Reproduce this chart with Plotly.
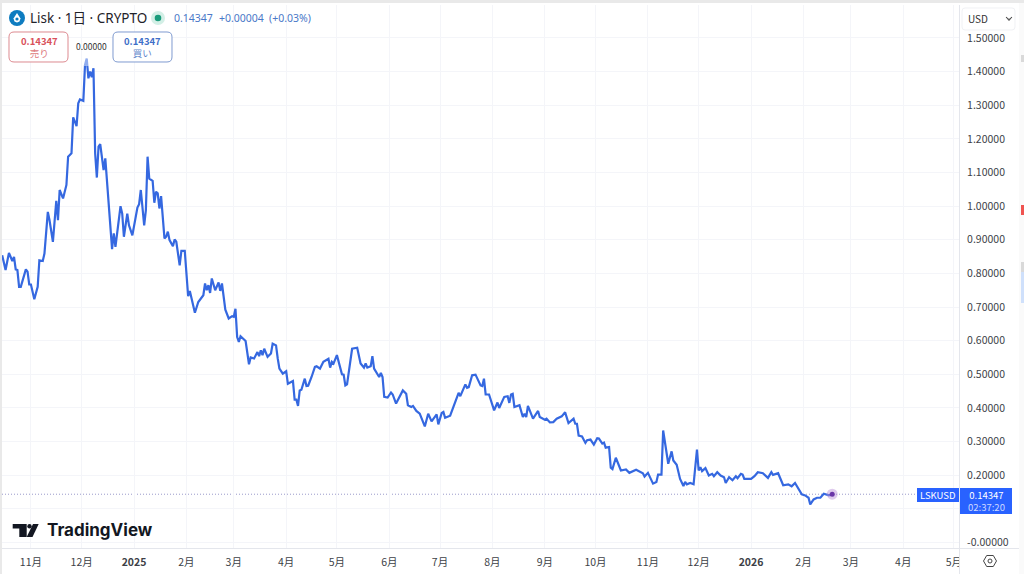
import pandas as pd
import plotly.graph_objects as go

# LSKUSD daily line: days after 2024-11-01 and close
start_date = pd.Timestamp("2024-11-01")
day_offsets = [
    -17, -15, -13, -11, -10, -9, -8, -7, -6, -3, -2, -1, 0, 2, 4, 5, 7, 8, 10, 11, 13, 15, 16, 17, 19,
    21, 22, 24, 25, 27, 28, 29, 31, 32, 33, 34, 35, 36, 37, 38, 39, 40, 41, 43, 44, 45, 48, 49, 50, 53,
    54, 55, 57, 58, 60, 63, 64, 65, 67, 68, 69, 70, 72, 73, 74, 75, 76, 77, 79, 80, 81, 82, 84, 85, 86,
    88, 89, 91, 93, 94, 97, 99, 102, 103, 104, 105, 106, 107, 109, 111, 112, 113, 115, 117, 119, 120,
    121, 122, 123, 124, 126, 127, 129, 130, 132, 134, 135, 136, 137, 138, 140, 142, 143, 145, 146, 147,
    149, 151, 152, 155, 156, 157, 158, 159, 160, 162, 163, 164, 166, 168, 169, 171, 173, 176, 177, 178,
    179, 181, 184, 185, 186, 187, 190, 193, 195, 197, 198, 199, 201, 202, 203, 206, 207, 208, 209, 211,
    213, 214, 216, 218, 220, 222, 223, 225, 226, 228, 230, 233, 235, 237, 240, 241, 243, 244, 245, 248,
    251, 253, 254, 257, 258, 259, 261, 263, 266, 267, 268, 269, 271, 274, 276, 277, 280, 282, 283, 284,
    285, 286, 289, 291, 292, 293, 294, 295, 297, 300, 301, 304, 305, 307, 309, 311, 314, 316, 318, 321,
    322, 323, 324, 326, 328, 329, 331, 333, 335, 336, 338, 339, 340, 342, 343, 344, 346, 349, 352, 354,
    358, 362, 363, 365, 368, 370, 371, 373, 374, 377, 379, 380, 382, 384, 386, 387, 388, 390, 392, 394,
    395, 396, 397, 399, 401, 403, 404, 406, 408, 410, 411, 413, 415, 417, 418, 420, 421, 422, 426, 428,
    430, 433, 436, 438, 439, 442, 445, 448, 450, 452, 454, 456, 458, 460, 461, 463, 465, 467, 469, 472,
    474,
]
prices = [
    .854, .810, .861, .837, .849, .812, .810, .760, .760, .812, .805, .767, .767, .723, .760, .839, .837,
    .859, .983, .958, .894, 1.016, .958, 1.048, 1.023,
    1.063, 1.147, 1.157, 1.264, 1.238, 1.306, 1.317, 1.313, 1.420, 1.439, 1.380, 1.400, 1.383, 1.410,
    1.157, 1.085, 1.177, 1.184, 1.107, 1.142, 1.077, .872, .919, .879, 1.000,
    .978, .909, .978, .943, .913, .996, 1.006, 1.048, .943, .988, 1.147, 1.082, 1.075, 1.010, 1.043,
    1.038, .993, 1.030, .904, .909, .924, .899, .881, .901, .894,
    .824, .867, .867, .732, .748, .683, .715, .735, .770, .750, .765, .742, .785, .750, .773, .748, .770,
    .692, .666, .673, .671,
    .695, .611, .596, .613, .603, .599, .530, .550, .547, .566, .554, .571, .557, .576, .552, .562, .591,
    .586, .547, .517,
    .502, .509, .472, .480, .425, .425, .406, .452, .454, .487, .465, .466, .492, .522, .524, .517, .537,
    .546, .520, .537,
    .532, .557, .500, .499, .467, .470, .576, .579, .532, .520, .532, .520, .524, .554, .517, .492, .504,
    .492, .433, .431,
    .446, .440, .413, .431, .452, .442, .408, .403, .406, .391, .383, .345, .383, .360, .381, .351, .385,
    .388, .371, .377,
    .418, .445, .435, .470, .460, .462, .497, .499, .467, .465, .487, .440, .440, .393, .416, .400, .433,
    .435, .415, .440,
    .442, .403, .408, .373, .383, .373, .406, .395, .368, .391, .373, .365, .368, .357, .358, .368, .375,
    .387, .355, .368,
    .353, .353, .318, .315, .296, .304, .306, .291, .310, .309, .294, .297, .282, .284, .222, .218, .252,
    .214, .217, .207,
    .216, .206, .196, .207, .175, .180, .202, .202, .333, .234, .271, .244, .231, .189, .168, .180, .173,
    .177, .173, .276,
    .214, .224, .212, .221, .199, .204, .197, .209, .199, .194, .177, .194, .185, .197, .191, .204, .202,
    .189, .189, .197,
    .209, .206, .192, .209, .201, .206, .170, .173, .167, .177, .160, .143, .140, .133, .113, .128, .133,
    .133, .145, .140,
    .14347,
]

month_ticks = ["2024-11-01", "2024-12-01", "2025-01-01", "2025-02-01", "2025-03-01", "2025-04-01",
               "2025-05-01", "2025-06-01", "2025-07-01", "2025-08-01", "2025-09-01", "2025-10-01",
               "2025-11-01", "2025-12-01", "2026-01-01", "2026-02-01", "2026-03-01", "2026-04-01",
               "2026-05-01"]
month_labels = ["11月", "12月", "<b>2025</b>", "2月", "3月", "4月", "5月", "6月", "7月", "8月", "9月", "10月",
                "11月", "12月", "<b>2026</b>", "2月", "3月", "4月", "5月"]
price_ticks = [1.5, 1.4, 1.3, 1.2, 1.1, 1.0, .9, .8, .7, .6, .5, .4, .3, .2, .1, 0]
price_labels = ["1.50000", "1.40000", "1.30000", "1.20000", "1.10000", "1.00000", "0.90000", "0.80000",
                "0.70000", "0.60000", "0.50000", "0.40000", "0.30000", "0.20000", "", "-0.00000"]

BLUE = "#3568e0"
TAG_BLUE = "#2962ff"
GRID = "#f4f5f9"
BORDER = "#e4e6ec"
TEXT = "#3d3f47"
FONT = "Noto Sans CJK JP"
LATIN_FONT = "Noto Sans, Noto Sans CJK JP"
WIDTH, HEIGHT = 1024, 574
LEFT, RIGHT, TOP, BOTTOM = 0, 959, 5, 548

def px(x):
    return (x - LEFT) / (RIGHT - LEFT)

def py(y):
    return 1 - (y - TOP) / (BOTTOM - TOP)

def polygon(points, fill, line=None, width=1, opacity=1):
    path = "M " + " L ".join(f"{px(x):.5f} {py(y):.5f}" for x, y in points) + " Z"
    return dict(type="path", xref="paper", yref="paper", path=path, fillcolor=fill, opacity=opacity,
                line=dict(color=line or "rgba(0,0,0,0)", width=width), layer="above")

def rect(x0, y0, x1, y1, fill, line=None, width=1, opacity=1):
    return dict(type="rect", xref="paper", yref="paper", x0=px(x0), x1=px(x1), y0=py(y0), y1=py(y1),
                fillcolor=fill, opacity=opacity, line=dict(color=line or "rgba(0,0,0,0)", width=width),
                layer="above")

def circle(x, y, r, fill, line=None, width=1):
    return dict(type="circle", xref="paper", yref="paper", x0=px(x - r), x1=px(x + r), y0=py(y + r),
                y1=py(y - r), fillcolor=fill, line=dict(color=line or "rgba(0,0,0,0)", width=width),
                layer="above")

def rounded(x0, y0, x1, y1, r, line):
    def fx(v):
        return f"{px(v):.5f}"
    def fy(v):
        return f"{py(v):.5f}"
    path = (f"M {fx(x0 + r)} {fy(y0)} L {fx(x1 - r)} {fy(y0)} Q {fx(x1)} {fy(y0)} {fx(x1)} {fy(y0 + r)} "
            f"L {fx(x1)} {fy(y1 - r)} Q {fx(x1)} {fy(y1)} {fx(x1 - r)} {fy(y1)} "
            f"L {fx(x0 + r)} {fy(y1)} Q {fx(x0)} {fy(y1)} {fx(x0)} {fy(y1 - r)} "
            f"L {fx(x0)} {fy(y0 + r)} Q {fx(x0)} {fy(y0)} {fx(x0 + r)} {fy(y0)} Z")
    return dict(type="path", xref="paper", yref="paper", path=path, fillcolor="white",
                line=dict(color=line, width=1), layer="above")

def note(x, y, text, size=11, color=TEXT, anchor="center", font=FONT):
    return dict(xref="paper", yref="paper", x=px(x), y=py(y), text=text, showarrow=False, xanchor=anchor,
                yanchor="middle", font=dict(size=size, color=color, family=font))

dates = [(start_date + pd.Timedelta(days=d)).strftime("%Y-%m-%d") for d in day_offsets]

fig = go.Figure()
fig.add_trace(go.Scatter(x=dates, y=prices, mode="lines", line=dict(color=BLUE, width=2.2), hoverinfo="skip"))
fig.add_trace(go.Scatter(x=dates[-1:], y=prices[-1:], mode="markers", hoverinfo="skip",
                         marker=dict(size=11, color="#b58ad6", opacity=0.45)))
fig.add_trace(go.Scatter(x=dates[-1:], y=prices[-1:], mode="markers", hoverinfo="skip",
                         marker=dict(size=5, color="#6a35a8")))

shapes = [
    # window edges
    rect(0, 0, 1024, 3, "#e9e9e9"),
    rect(0, 0, 2, 574, "#e9e9e9"),
    rect(1019, 3, 1024, 574, "#fafafa"),
    rect(1021, 55, 1024, 62, "#d9d9d9"),
    rect(1021, 205, 1024, 215, "#ef5350"),
    rect(1021, 262, 1024, 272, "#d9d9d9"),
    rect(1021, 272, 1024, 303, "#cfe0fb"),
    # axis corner: the 5月 label is cut off by the price scale
    rect(959.5, 549, 972, 574, "white"),
    rect(959, 548, 960, 574, BORDER),
    rect(960, 548, 1019, 549, BORDER),
    # last price line and tags
    dict(type="line", xref="paper", yref="y", x0=px(2), x1=px(917), y0=prices[-1], y1=prices[-1],
         line=dict(color="#9a9acb", width=1, dash="1px,2px"), layer="below"),
    rect(917, 488, 959, 502, TAG_BLUE),
    rect(960, 488, 1012, 514, TAG_BLUE),
    # header
    circle(17, 18, 8, "#0e7cc0"),
    polygon([(17, 13), (20.5, 18.5), (19.5, 21.5), (17, 22.5), (14.5, 21.5), (13.5, 18.5)], "white"),
    circle(17, 19, 1.6, "#0e7cc0"),
    circle(158, 18, 7, "#d3efe6"),
    circle(158, 18, 3.3, "#1a9c7b"),
    rounded(9, 32, 68, 62, 5, "#dd8a90"),
    rounded(113, 32, 172, 62, 5, "#7f9bd0"),
    rect(84, 55, 90, 66, "white", opacity=0.45),
    # currency button
    rounded(962, 8, 1015, 30, 3, "#f0f1f4"),
    polygon([(1006, 17), (1009, 19.5), (1012, 17), (1009, 20.5)], "#555", line="#555"),
    # TradingView mark
    polygon([(12.7, 524), (26.7, 524), (26.7, 537), (19.3, 537), (19.3, 528.5), (12.7, 528.5)], "#131722"),
    circle(29.5, 526.3, 2.2, "#131722"),
    polygon([(33, 524), (38.7, 524), (32.5, 537), (26.7, 537)], "#131722"),
    # settings button
    polygon([(983.5, 561), (986.7, 555.5), (993.3, 555.5), (996.5, 561), (993.3, 566.5), (986.7, 566.5)],
            "white", line="#444", width=1),
    circle(990, 561, 2, "white", line="#444"),
]

annotations = [
    note(28, 18, "Lisk · 1日 · CRYPTO", size=13.5, color="#1f2229", anchor="left", font=LATIN_FONT),
    note(172, 18, "0.14347", size=10.5, color="#4a78c8", anchor="left", font=LATIN_FONT),
    note(217, 18, "+0.00004", size=10.5, color="#4a78c8", anchor="left", font=LATIN_FONT),
    note(267, 18, "(+0.03%)", size=10.5, color="#4a78c8", anchor="left", font=LATIN_FONT),
    note(39, 47, "<b>0.14347</b><br><span style='color:#dd7a80'>売り</span>", size=9.5, color="#d9505a"),
    note(91, 46, "0.00000", size=8.5, color="#333"),
    note(142.5, 47, "<b>0.14347</b><br><span style='color:#5f86cc'>買い</span>", size=9.5, color="#3f6fc8"),
    note(966, 18.5, "USD", size=10, color="#333", anchor="left"),
    note(938, 495, "LSKUSD", size=9.5, color="white"),
    note(986, 501, "0.14347<br><span style='color:#cdd9ff'>02:37:20</span>", size=9.5, color="white"),
    note(45, 530, "<b>TradingView</b>", size=17, color="#131722", anchor="left", font="Inter"),
]

fig.update_layout(
    width=WIDTH, height=HEIGHT, showlegend=False, paper_bgcolor="white", plot_bgcolor="white",
    margin=dict(l=LEFT, r=WIDTH - RIGHT, t=TOP, b=HEIGHT - BOTTOM, pad=0),
    font=dict(family=FONT, size=11, color=TEXT),
    shapes=shapes, annotations=annotations,
)
fig.update_xaxes(type="date", range=["2024-10-13 17:00", "2026-05-04"], tickmode="array", tickvals=month_ticks,
                 ticktext=month_labels, showgrid=True, gridcolor=GRID, gridwidth=1, zeroline=False,
                 showline=True, linecolor=BORDER, ticks="", tickfont=dict(size=10.5, color=TEXT),
                 ticklabelstandoff=4)
fig.update_yaxes(side="right", range=[-0.0164, 1.598], tickmode="array", tickvals=price_ticks,
                 ticktext=price_labels, showgrid=True, gridcolor=GRID, gridwidth=1, zeroline=False,
                 showline=True, linecolor=BORDER, ticks="", tickfont=dict(size=10.5, color=TEXT),
                 ticklabelstandoff=5)

fig.write_html("out.html", config=dict(displayModeBar=False),
               post_script="document.body.style.margin='0';document.body.style.overflow='hidden';")
